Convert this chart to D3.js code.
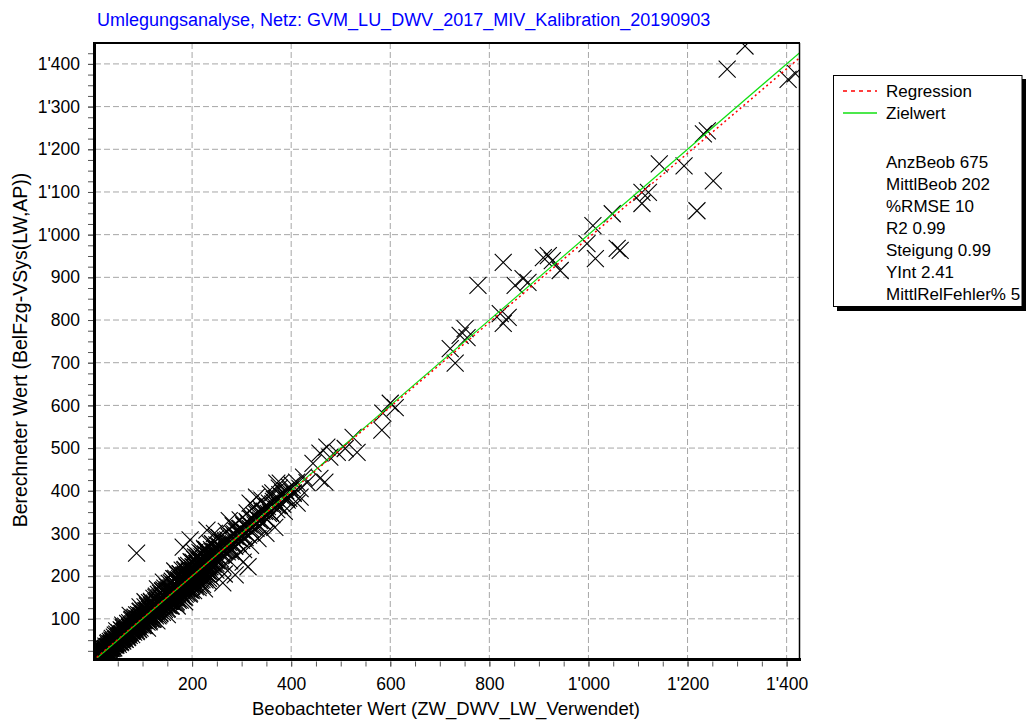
<!DOCTYPE html>
<html>
<head>
<meta charset="utf-8">
<script src="https://cdn.jsdelivr.net/npm/d3@7"></script>
<style>
  body { margin: 0; background: #fff; }
  svg { display: block; }
  text { font-family: "Liberation Sans", Arial, sans-serif; fill: #000; }
</style>
</head>
<body>
<div id="chart"></div>
<script>
const titel = "Umlegungsanalyse, Netz: GVM_LU_DWV_2017_MIV_Kalibration_20190903";
const xTitel = "Beobachteter Wert (ZW_DWV_LW_Verwendet)";
const yTitel = "Berechneter Wert (BelFzg-VSys(LW,AP))";

const xTicks = [200, 400, 600, 800, 1000, 1200, 1400];
const yTicks = [100, 200, 300, 400, 500, 600, 700, 800, 900, 1000, 1100, 1200, 1300, 1400];
const xMinor = d3.range(50, 1427, 50);
const yMinor = d3.range(25, 1449, 25);

const legendNamen = ["Regression", "Zielwert"];
const legendFarben = ["#ff0000", "#10e010"];
const kennwerte = ["AnzBeob 675", "MittlBeob 202", "%RMSE 10", "R2 0.99", "Steigung 0.99", "YInt 2.41", "MittlRelFehler% 5"];
const steigung = 0.99;
const yInt = 2.41;

const beob = [
  1,2,2,3,4,4,5,6,6,7, 8,8,9,10,10,11,12,13,13,14, 15,15,16,17,18,18,19,20,21,21,
  22,23,24,24,25,26,27,27,28,29, 30,31,31,32,33,34,35,35,36,37, 38,39,40,40,41,42,43,44,45,45,
  46,47,48,49,50,50,51,52,53,54, 55,55,56,57,58,59,60,60,61,62, 63,64,65,65,66,67,68,69,70,70,
  71,72,73,74,75,75,76,77,78,79, 80,80,81,82,83,84,85,85,86,87, 88,89,90,90,91,92,93,94,95,95,
  96,97,98,99,100,100,101,102,103,104, 105,105,106,107,108,109,110,110,111,112, 113,114,115,115,116,117,118,119,120,120,
  121,122,123,124,125,125,126,127,128,129, 130,130,131,132,133,134,135,135,136,137, 138,139,140,140,141,142,143,144,145,145,
  146,147,148,149,150,150,151,152,153,154, 155,155,156,157,158,159,160,160,161,162, 163,164,165,165,166,167,168,169,170,170,
  171,172,173,174,175,175,176,177,178,179, 180,180,181,182,183,184,185,185,186,187, 188,189,190,190,191,192,193,194,195,195,
  196,197,198,199,200,200,201,202,203,204, 205,206,207,208,209,210,210,211,212,213, 214,215,216,217,218,219,220,220,221,222,
  223,224,225,226,227,228,229,230,230,231,
  3,5,7,9,11,14,16,19,20,23, 25,28,30,33,36,39,41,44,47,49, 52,54,57,59,62,64,67,69,72,74,
  77,79,82,84,87,89,92,94,97,99, 102,104,107,109,112,114,117,119,122,124, 127,129,132,134,137,139,142,144,147,149,
  152,154,157,159,162,164,167,169,172,174, 177,179,182,184,187,189,192,194,197,199, 202,204,207,209,212,214,217,219,222,224,
  227,229,232,234,237,239,242,244,247,249,
  45,62,78,95,110,128,143,160,176,190, 55,70,88,103,120,135,150,168,183,198,
  30,38,58,85,118,140,165,186,205,226, 40,65,92,114,133,156,172,195,213,233,
  4,8,12,17,21,26,31,35,39,43, 48,53,57,61,66,70,74,79,83,88, 92,96,101,105,110,114,118,123,127,132,
  136,141,145,150,154,158,163,167,171,176, 180,185,189,193,198,202,207,211,216,220, 225,229,236,242,249,
  6,10,15,19,24,28,33,37,42,46, 51,56,60,64,69,73,78,82,87,91, 95,100,104,109,113,117,122,126,131,135,
  140,144,149,153,158,162,167,171,176,180, 185,189,194,198,203,207,212,216,221,226, 232,238,
  5,9,13,18,22,27,32,36,41,45, 50,55,59,64,68,73,77,82,86,91, 95,100,104,109,113,118,122,127,131,136,
  140,145,149,154,158,163,167,172,176,181, 185,190,194,199,203,208,212,217,221,226, 230,235,240,245,
  2,7,11,16,20,25,29,34,38,43, 47,52,56,61,65,70,75,79,84,88, 93,97,102,106,111,115,120,124,129,133,
  138,142,147,151,156,160,165,169,174,178, 183,187,192,196,201,205,210,214,219,223, 228,232,237,241,246,
  3,8,13,19,24,30,35,41,46,52, 57,63,68,74,79,85,90,96,101,107, 112,118,123,129,134,140,145,151,156,162,
  167,173,178,184,189,195,200,206,211,217, 222,228,233,239,244,250,
  60,95,130,165,205,245,275,330, 110,150,185,225,265,
  201,204,208,211,215,218,222,226,229,233, 236,240,243,247,250,254,257,261,264,268,
  271,275,279,282,286,289,293,296,300,304, 307,311,314,318,321,325,329,332,336,340,
  344,348,352,356,361,366,371,377,383,389, 395,402,
  199,206,213,220,227,234,241,248,255,262, 269,276,283,290,297,304,311,318,325,333, 341,349,358,367,376,386,
  203,210,217,224,231,238,245,252,259,266, 273,280,287,294,301,308,315,322,330,338, 346,354,363,372,381,390,
  150,153,157,160,164,168,171,175,179,182, 186,190,193,197,
  233,235,238,240,243,245,248,250,252,255, 257,259,262,264,267,270,272,275,278,280,
  283,286,289,292,295,298,301,305,309,313, 318,322,327,331,336,341,346,352,358,364,
  370,376,383,390,397,404,411,418,425,432,
  1316,1280,1403,1418,1240,1232,1143,1193,1252,1219, 1108,1121,1108,1048,1009,997,1014,1064,1058,828,
  777,919,927,943,909,868,852,878,822,838, 828,751,755,741,721,731,600,610,585,583,
  525,533,509,493,472,458,478,444,458,468, 378,404,363,392,412,398,418,317,371,230,
  196,182,262,303,313,287,236,88,170,129, 48,75,105,142
];
const berech = [
  3,1,6,4,2,8,5,9,3,6, 5,12,10,7,14,13,9,16,11,18, 12,19,17,15,22,16,24,18,20,26,
  19,27,21,29,24,30,23,32,27,25, 35,28,33,38,30,36,32,40,34,43, 35,42,37,46,40,48,39,44,41,51,
  43,53,46,50,45,57,49,58,51,47, 61,52,59,54,65,57,53,66,60,68, 58,70,62,73,64,60,75,67,63,78,
  69,66,80,71,82,68,74,85,72,76, 73,88,79,90,76,81,93,78,87,82, 97,84,92,100,85,98,88,103,91,86,
  104,92,107,95,110,90,99,113,97,106, 96,115,103,118,100,113,105,121,98,116, 108,124,103,127,112,120,109,130,114,106,
  133,117,126,137,112,129,120,140,118,124, 143,121,136,126,147,131,125,150,133,141, 129,153,135,146,127,156,138,149,133,160,
  140,157,137,164,146,132,160,144,168,150, 141,171,152,164,145,174,156,139,169,151, 178,158,149,182,163,171,152,186,160,176,
  156,190,167,181,159,194,170,162,185,173, 198,165,189,175,201,170,192,181,158,204, 180,196,171,208,186,199,177,212,190,168,
  215,185,204,176,219,194,182,222,199,188, 226,197,214,183,229,204,192,232,207,195, 236,203,224,190,240,211,198,245,215,206,
  248,212,233,197,252,220,205,256,226,214,
  5,7,4,12,14,11,20,16,25,21, 31,24,34,29,41,35,46,40,52,44, 48,60,63,55,57,71,63,76,68,80,
  71,86,77,93,81,96,86,101,91,107, 95,111,101,118,105,122,110,127,114,133, 119,138,124,144,129,148,134,153,139,158,
  144,163,148,168,155,175,159,179,164,183, 168,189,174,195,178,199,184,204,188,210, 193,214,199,220,203,226,208,231,213,235,
  218,241,222,246,228,251,232,257,238,262,
  62,80,97,117,133,153,168,188,206,221, 44,57,72,84,99,112,124,140,151,166,
  42,50,73,104,141,165,193,216,240,262, 31,52,75,95,109,130,143,160,178,195,
  9,14,21,25,31,36,44,47,54,57, 64,67,74,79,83,89,91,99,102,109, 110,118,120,128,130,138,139,148,150,157,
  160,166,172,175,183,184,194,195,203,205, 214,214,224,225,234,233,245,243,255,252, 265,262,276,275,290,
  2,5,10,14,17,22,25,30,32,38, 40,46,48,53,56,61,63,69,70,76, 78,84,85,92,93,99,100,107,107,114,
  115,122,122,131,130,138,137,146,144,153, 151,160,158,168,166,175,173,183,180,191, 189,197,
  6,8,15,17,24,25,34,35,43,43, 52,53,61,62,71,71,80,80,89,89, 98,97,107,107,117,116,126,125,135,134,
  145,142,154,151,164,160,173,169,183,178, 192,187,201,195,211,204,220,213,230,222, 239,230,249,239,
  4,5,14,14,24,22,34,31,43,40, 52,48,62,57,72,66,81,75,91,84, 100,92,110,101,119,110,129,118,138,127,
  148,134,157,143,166,152,176,160,185,168, 195,177,203,186,213,195,222,202,232,211, 240,220,249,229,258,
  1,11,10,23,20,35,31,47,41,59, 51,71,61,83,71,95,81,107,91,119, 101,131,111,143,121,155,131,167,141,179,
  151,191,160,203,170,215,180,227,190,238, 200,250,210,262,220,273,
  85,128,170,212,255,300,330,385, 78,110,140,170,205,
  188,221,197,229,203,236,210,245,214,250, 222,258,228,266,236,272,241,279,249,284,
  257,292,262,299,270,305,276,311,284,320, 290,328,296,335,302,342,312,349,318,356,
  326,364,333,371,344,380,356,391,368,400, 382,413,
  232,180,246,192,262,202,276,214,290,224, 305,236,318,248,332,262,348,272,362,288, 378,300,392,314,406,352,
  207,206,222,219,236,233,250,247,264,260, 279,275,293,288,307,302,321,316,336,331, 352,347,369,365,387,383,
  166,141,172,148,179,153,185,161,193,166, 201,174,207,181,
  240,228,251,236,258,242,230,262,247,236, 268,251,276,259,281,263,285,270,258,293,
  276,299,281,305,288,312,294,318,300,325, 311,334,320,345,330,352,338,363,349,375,
  382,366,395,381,408,394,420,405,432,419,
  1442,1388,1364,1377,1243,1236,1166,1161,1126,1056, 1099,1099,1073,1049,1021,979,944,963,968,935,
  881,951,939,916,946,897,881,888,815,806, 792,780,759,764,733,699,605,595,582,542,
  525,490,499,490,502,488,479,464,429,420, 418,395,395,378,371,402,385,371,418,308,
  285,268,184,233,222,203,210,254,130,95, 72,108,140,186
];

const W = 1029, H = 720;
const x = d3.scaleLinear().domain([0, 1427]).range([93, 800]);
const y = d3.scaleLinear().domain([0, 1449]).range([661.5, 43]);

const loc = d3.formatLocale({ decimal: ".", thousands: "'", grouping: [3] });
const fmt = loc.format(",d");

const svg = d3.select("#chart").append("svg")
  .attr("width", W).attr("height", H);

// titel
svg.append("text")
  .attr("x", 97).attr("y", 26)
  .style("font-size", "18px")
  .style("fill", "#0000ff")
  .text(titel);

// gitter
svg.append("g").selectAll("line").data(yTicks).join("line")
  .attr("x1", 95).attr("x2", 800)
  .attr("y1", d => y(d)).attr("y2", d => y(d))
  .attr("stroke", "#a6a6a6").attr("stroke-dasharray", "6,3");
svg.append("g").selectAll("line").data(xTicks).join("line")
  .attr("y1", 43).attr("y2", 659)
  .attr("x1", d => x(d)).attr("x2", d => x(d))
  .attr("stroke", "#a6a6a6").attr("stroke-dasharray", "6,3");

// punkte
svg.append("clipPath").attr("id", "plotclip").append("rect")
  .attr("x", 95).attr("y", 43).attr("width", 705).attr("height", 617);

const punkte = beob.map((d, i) => ({ b: d, r: berech[i] }));
const s = 8.5;
svg.append("g").attr("clip-path", "url(#plotclip)")
  .selectAll("path").data(punkte).join("path")
  .attr("d", d => {
    const cx = x(d.b), cy = y(d.r);
    return `M${cx - s},${cy - s}L${cx + s},${cy + s}M${cx - s},${cy + s}L${cx + s},${cy - s}`;
  })
  .attr("fill", "none").attr("stroke", "#000").attr("stroke-width", 1.1);

// zielwert + regression
const lg = svg.append("g").attr("clip-path", "url(#plotclip)");
lg.append("line")
  .attr("x1", x(0)).attr("y1", y(0)).attr("x2", x(1427)).attr("y2", y(1427))
  .attr("stroke", legendFarben[1]).attr("stroke-width", 1.2);
lg.append("line")
  .attr("x1", x(0)).attr("y1", y(yInt)).attr("x2", x(1427)).attr("y2", y(steigung * 1427 + yInt))
  .attr("stroke", legendFarben[0]).attr("stroke-width", 1.5).attr("stroke-dasharray", "2,3");

// achsen
const yAxMinor = d3.axisLeft(y).tickValues(yMinor).tickSize(5).tickFormat("");
const yAx = d3.axisLeft(y).tickValues(yTicks).tickSize(5).tickPadding(8).tickFormat(fmt);
const xAxMinor = d3.axisBottom(x).tickValues(xMinor).tickSize(5).tickFormat("");
const xAx = d3.axisBottom(x).tickValues(xTicks).tickSize(5).tickPadding(11).tickFormat(fmt);

function style(g) {
  g.select(".domain").remove();
  g.selectAll(".tick line").attr("stroke", "#555");
  g.selectAll(".tick text").style("font-size", "17.5px").attr("fill", "#000")
    .style("font-family", "'Liberation Sans', Arial, sans-serif");
}
svg.append("g").attr("transform", "translate(93,0)").call(yAxMinor).call(style);
svg.append("g").attr("transform", "translate(93,0)").call(yAx).call(style);
svg.append("g").attr("transform", "translate(0,661.5)").call(xAxMinor).call(style);
svg.append("g").attr("transform", "translate(0,661.5)").call(xAx).call(style);

// rahmen
svg.append("line").attr("x1", 94.5).attr("x2", 800).attr("y1", 43).attr("y2", 43)
  .attr("stroke", "#000").attr("stroke-width", 2);
svg.append("line").attr("x1", 799.5).attr("x2", 799.5).attr("y1", 43).attr("y2", 660)
  .attr("stroke", "#000").attr("stroke-width", 1.5);
svg.append("line").attr("x1", 94.5).attr("x2", 94.5).attr("y1", 42).attr("y2", 661)
  .attr("stroke", "#000").attr("stroke-width", 3);
svg.append("line").attr("x1", 93).attr("x2", 801).attr("y1", 659.5).attr("y2", 659.5)
  .attr("stroke", "#000").attr("stroke-width", 3);

// achsentitel
svg.append("text")
  .attr("x", 446).attr("y", 715)
  .attr("text-anchor", "middle")
  .style("font-size", "18.5px")
  .text(xTitel);
svg.append("text")
  .attr("transform", "translate(27,350) rotate(-90)")
  .attr("text-anchor", "middle")
  .style("font-size", "19.5px")
  .text(yTitel);

// legende
const leg = svg.append("g");
leg.append("rect").attr("x", 837).attr("y", 79).attr("width", 189).attr("height", 232).attr("fill", "#000");
leg.append("rect").attr("x", 833.5).attr("y", 75.5).attr("width", 188.5).attr("height", 231)
  .attr("fill", "#fff").attr("stroke", "#000").attr("stroke-width", 1);

legendNamen.forEach((n, i) => {
  const yy = 91 + i * 22;
  leg.append("line").attr("x1", 843).attr("x2", 877).attr("y1", yy).attr("y2", yy)
    .attr("stroke", legendFarben[i]).attr("stroke-width", 1.3)
    .attr("stroke-dasharray", i === 0 ? "4,4" : null);
  leg.append("text").attr("x", 886).attr("y", yy + 6)
    .style("font-size", "17px").text(n);
});
leg.selectAll("text.kw").data(kennwerte).join("text")
  .attr("class", "kw")
  .attr("x", 886).attr("y", (d, i) => 168 + i * 22)
  .style("font-size", "17px")
  .text(d => d);
</script>
</body>
</html>
